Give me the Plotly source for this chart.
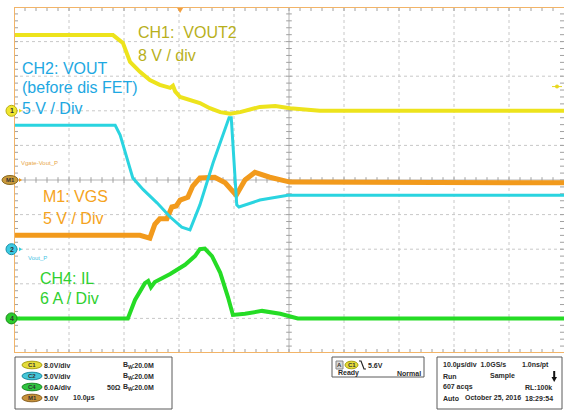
import plotly.graph_objects as go

W, H = 566, 410
# graticule area in page pixels
GX0, GX1, GY0, GY1 = 14, 564, 7, 353
N_HDIV, N_VDIV = 10, 10
T_PER_DIV = 10.0  # µs / div
T_MAX = N_HDIV * T_PER_DIV

# ---------------- data (physical units) ----------------
# CH1: VOUT2, 8 V/div
ch1_t = [0, 18.0, 19.8, 21.1, 22.9, 24.7, 26.5, 28.4, 28.9, 29.3, 30.2, 32.0, 33.8, 35.6,
         37.5, 39.3, 41.1, 44.7, 47.5, 50.2, 55.6, 100]
ch1_v = [17.5, 17.5, 15.7, 11.3, 9.0, 7.1, 6.0, 5.3, 5.8, 4.5, 3.2, 2.5, 1.8, 0.6,
         -0.3, -0.7, -0.3, 0.9, 1.1, 0.6, 0.0, 0.0]
# CH2: VOUT (before dis FET), 5 V/div
ch2_t = [0, 18.4, 19.3, 20.7, 21.6, 23.5, 26.0, 28.4, 30.5, 32.0, 33.8, 36.2, 39.1, 39.5,
         40.5, 40.9, 44.7, 49.8, 100]
ch2_v = [17.9, 17.9, 16.5, 12.9, 10.3, 8.6, 6.7, 4.65, 3.2, 2.8, 6.4, 12.5, 19.0, 19.0,
         6.4, 6.1, 7.1, 7.8, 7.8]
# M1: VGS, 5 V/div
m1_t = [0, 22.9, 24.7, 25.6, 26.5, 27.8, 28.7, 29.5, 30.2, 31.6, 32.5, 33.8, 36.5, 38.4,
        40.4, 42.0, 43.8, 46.5, 50.2, 100]
m1_v = [-8.0, -8.0, -8.4, -6.4, -5.6, -5.6, -3.9, -3.75, -2.9, -2.5, -0.87, 0.3, 0.4, -0.4,
        -2.2, 0.0, 1.1, 0.4, -0.3, -0.4]
# CH4: IL, 6 A/div
ch4_t = [0, 20.7, 22.0, 23.8, 24.4, 24.9, 25.6, 28.4, 31.1, 32.9, 33.8, 34.7, 36.0, 37.5,
         38.9, 39.8, 42.0, 45.1, 48.4, 51.6, 100]
ch4_a = [0, 0, 3.2, 6.1, 6.5, 5.4, 6.3, 7.7, 9.3, 10.8, 12.0, 12.1, 10.8, 7.9,
         3.7, 0.6, 0.8, 1.3, 0.8, 0, 0]

# channel scales and positions (divisions from screen centre)
ch1_scale, ch1_pos = 8.0, 2.0
ch2_scale, ch2_pos = 5.0, -2.0
m1_scale, m1_pos = 5.0, 0.0
ch4_scale, ch4_pos = 6.0, -4.0
trig_level = 5.6   # V on CH1
trig_time = 30.2   # µs

C_CH1, C_CH2, C_M1, C_CH4 = "#ede31c", "#2ad4e0", "#f29a1c", "#25dc25"
T_CH1, T_CH2, T_M1, T_CH4 = "#b8b01c", "#1ea8e2", "#f5a320", "#30d030"


def to_div(vals, scale, pos):
    return [v / scale + pos for v in vals]


DIV_PX_Y = (GY1 - GY0) / N_VDIV
CY = (GY0 + GY1) / 2


def div_to_px(d):
    return CY - d * DIV_PX_Y


def px(x):
    return x / W


def py(y):
    return 1 - y / H


fig = go.Figure()

# graticule minor ticks (one trace)
tx, ty = [], []
tl_y = 4 / DIV_PX_Y
tl_x = 4 / ((GX1 - GX0) / N_HDIV) * T_PER_DIV
for k in range(1, N_HDIV * 5):
    t = k * T_PER_DIV / 5
    tx += [t, t, None, t, t, None, t, t, None]
    ty += [5, 5 - tl_y, None, -5, -5 + tl_y, None, -tl_y * 0.7, tl_y * 0.7, None]
for k in range(1, N_VDIV * 5):
    y = -5 + k / 5
    tx += [0, tl_x, None, T_MAX, T_MAX - tl_x, None, 50 - tl_x * 0.7, 50 + tl_x * 0.7, None]
    ty += [y, y, None, y, y, None, y, y, None]
fig.add_trace(go.Scatter(x=tx, y=ty, mode="lines", line=dict(color="#a0a0a0", width=1),
                         hoverinfo="skip"))

fig.add_trace(go.Scatter(x=ch1_t, y=to_div(ch1_v, ch1_scale, ch1_pos), mode="lines",
                         line=dict(color=C_CH1, width=4), hoverinfo="skip"))
fig.add_trace(go.Scatter(x=m1_t, y=to_div(m1_v, m1_scale, m1_pos), mode="lines",
                         line=dict(color=C_M1, width=5), hoverinfo="skip"))
fig.add_trace(go.Scatter(x=ch4_t, y=to_div(ch4_a, ch4_scale, ch4_pos), mode="lines",
                         line=dict(color=C_CH4, width=4), hoverinfo="skip"))
fig.add_trace(go.Scatter(x=ch2_t, y=to_div(ch2_v, ch2_scale, ch2_pos), mode="lines",
                         line=dict(color=C_CH2, width=3), hoverinfo="skip"))

shapes = []
# dotted grid
for k in range(1, N_HDIV):
    t = k * T_PER_DIV
    if k == N_HDIV // 2:
        shapes.append(dict(type="line", xref="x", yref="y", x0=t, x1=t, y0=-5, y1=5,
                           line=dict(color="#b4b4b4", width=1), layer="below"))
    else:
        shapes.append(dict(type="line", xref="x", yref="y", x0=t, x1=t, y0=-5, y1=5,
                           line=dict(color="#c8c8c8", width=1, dash="dot"), layer="below"))
for k in range(1, N_VDIV):
    y = -5 + k
    if y == 0:
        shapes.append(dict(type="line", xref="x", yref="y", x0=0, x1=T_MAX, y0=0, y1=0,
                           line=dict(color="#b4b4b4", width=1), layer="below"))
    else:
        shapes.append(dict(type="line", xref="x", yref="y", x0=0, x1=T_MAX, y0=y, y1=y,
                           line=dict(color="#c8c8c8", width=1, dash="dot"), layer="below"))
# orange border
BORDER = "#f2b468"
for (x0, y0, x1, y1) in [(0, 5, T_MAX, 5), (0, -5, T_MAX, -5), (0, -5, 0, 5)]:
    shapes.append(dict(type="line", xref="x", yref="y", x0=x0, x1=x1, y0=y0, y1=y1,
                       line=dict(color=BORDER, width=2)))

# trigger position marker (top)
tpx = GX0 + trig_time / T_MAX * (GX1 - GX0)
shapes.append(dict(type="path", xref="paper", yref="paper",
                   path=f"M {px(tpx-3)} {py(8)} L {px(tpx+3)} {py(8)} L {px(tpx)} {py(13)} Z",
                   fillcolor="#f2a040", line=dict(width=0)))
# trigger level marker (right)
tly = div_to_px(trig_level / ch1_scale + ch1_pos)
shapes.append(dict(type="circle", xref="paper", yref="paper",
                   x0=px(555), x1=px(559), y0=py(tly - 2), y1=py(tly + 2),
                   fillcolor="#e8d820", line=dict(width=0)))
shapes.append(dict(type="line", xref="paper", yref="paper",
                   x0=px(552), x1=px(562), y0=py(tly), y1=py(tly),
                   line=dict(color="#e8d820", width=1)))

annotations = []


def ann(text, x, y, size, color, xanchor="left", weight="normal", family="Liberation Sans"):
    annotations.append(dict(x=px(x), y=py(y), xref="paper", yref="paper", text=text,
                            showarrow=False, xanchor=xanchor, yanchor="middle",
                            borderpad=0,
                            font=dict(family=family, size=size, color=color, weight=weight)))


# channel ground markers at left
markers = [("1", ch1_pos, "#f0e630", "#b8ae10", C_CH1),
           ("M1", m1_pos, "#c99a3c", "#8a6a20", C_M1),
           ("2", ch2_pos, "#3ccae2", "#1890a8", C_CH2),
           ("4", ch4_pos, "#2ccc2c", "#188a18", C_CH4)]
for label, pos, fill, edge, arrow in markers:
    yy = div_to_px(pos)
    if label == "M1":
        shapes.append(dict(type="circle", xref="paper", yref="paper", x0=px(2), x1=px(18),
                           y0=py(yy - 4.5), y1=py(yy + 4.5), fillcolor=fill, line=dict(color=edge, width=1)))
        ann(label, 10, yy, 6, "#333", xanchor="center", weight="bold")
    else:
        shapes.append(dict(type="circle", xref="paper", yref="paper", x0=px(6), x1=px(17),
                           y0=py(yy - 5.5), y1=py(yy + 5.5), fillcolor=fill, line=dict(color=edge, width=1)))
        ann(label, 11.5, yy, 7, "#333", xanchor="center", weight="bold")
    shapes.append(dict(type="path", xref="paper", yref="paper",
                       path=f"M {px(19)} {py(yy-2)} L {px(19)} {py(yy+2)} L {px(22)} {py(yy)} Z",
                       fillcolor=arrow, line=dict(width=0)))

# trace labels
FS = 16
ann("CH1:\u00a0 VOUT2", 137, 33, FS, T_CH1)
ann("8 V / div", 137, 55, FS, T_CH1)
ann("CH2: VOUT", 21, 68, FS, T_CH2)
ann("(before dis FET)", 21, 88, FS, T_CH2)
ann("5 V / Div", 21, 108, FS, T_CH2)
ann("M1: VGS", 42, 196, FS, T_M1)
ann("5 V / Div", 42, 218, FS, T_M1)
ann("CH4: IL", 39, 278, FS, T_CH4)
ann("6 A / Div", 39, 298, FS, T_CH4)
ann("Vgate-Vout_P", 20, 163, 6, "#e8a848")
ann("Vout_P", 27, 258, 6, "#48c4e4")

# bottom status panel
BOX = dict(color="#5a5a5a", width=1)
for (x0, y0, x1, y1) in [(15, 357, 172, 409), (332, 357, 424, 377), (437, 357, 562, 409)]:
    shapes.append(dict(type="rect", xref="paper", yref="paper", x0=px(x0), x1=px(x1),
                       y0=py(y0), y1=py(y1), line=BOX, fillcolor="rgba(0,0,0,0)"))

TXT = "#2a2a2a"
SF = 7
rows = [365, 376, 387, 398]
badges = [("C1", "#e4dc3a", "#a8a010"), ("C2", "#44c6d8", "#1a8aa0"),
          ("C4", "#30c440", "#188a20"), ("M1", "#c8923a", "#8a6020")]
for (lab, fill, edge), yy in zip(badges, rows):
    shapes.append(dict(type="circle", xref="paper", yref="paper", x0=px(22), x1=px(42),
                       y0=py(yy - 3.8), y1=py(yy + 3.8), fillcolor=fill, line=dict(color=edge, width=1)))
    ann(lab, 32, yy, 6, "#333", xanchor="center", weight="bold")

ann("8.0V/div", 43, rows[0], SF, TXT, weight="bold")
ann("5.0V/div", 43, rows[1], SF, TXT, weight="bold")
ann("6.0A/div", 43, rows[2], SF, TXT, weight="bold")
ann("5.0V", 43, rows[3], SF, TXT, weight="bold")
ann("10.0\u00b5s", 72, rows[3], SF, TXT, weight="bold")
ann("50\u03a9", 106, rows[2], SF, TXT, weight="bold")
for r in rows[:3]:
    ann("B", 122, r - 1, SF, TXT, weight="bold")
    ann("W", 126.5, r + 1.5, 5, TXT, weight="bold")
    ann(":20.0M", 131, r, SF, TXT, weight="bold")

# trigger box
shapes.append(dict(type="rect", xref="paper", yref="paper", x0=px(336), x1=px(343),
                   y0=py(361), y1=py(369), fillcolor="#d8d8d8", line=dict(color="#888", width=1)))
ann("A", 339.5, 365, 6, "#333", xanchor="center", weight="bold")
shapes.append(dict(type="circle", xref="paper", yref="paper", x0=px(345), x1=px(358),
                   y0=py(361.2), y1=py(368.8), fillcolor="#e4dc3a", line=dict(color="#a8a010", width=1)))
ann("C1", 351.5, 365, 6, "#333", xanchor="center", weight="bold")
shapes.append(dict(type="path", xref="paper", yref="paper",
                   path=f"M {px(359)} {py(361)} L {px(361)} {py(361)} L {px(364)} {py(369)} L {px(366)} {py(369)}",
                   line=dict(color="#222", width=1.2)))
ann("5.6V", 367, 365, SF, TXT, weight="bold")
ann("Ready", 337, 373, SF, TXT, weight="bold")
ann("Normal", 422, 373, SF, TXT, xanchor="right", weight="bold")

# acquisition box
ann("10.0\u00b5s/div\u00a0 1.0GS/s", 442, rows[0], SF, TXT, weight="bold")
ann("1.0ns/pt", 550, rows[0], SF, TXT, xanchor="right", weight="bold")
ann("Run", 442, rows[1], SF, TXT, weight="bold")
ann("Sample", 489, rows[1], SF, TXT, weight="bold")
# run-state arrow
shapes.append(dict(type="rect", xref="paper", yref="paper", x0=px(553.2), x1=px(555.2),
                   y0=py(371), y1=py(378), fillcolor="#111", line=dict(width=0)))
shapes.append(dict(type="path", xref="paper", yref="paper",
                   path=f"M {px(551.5)} {py(377)} L {px(557)} {py(377)} L {px(554.2)} {py(382)} Z",
                   fillcolor="#111", line=dict(width=0)))
ann("607 acqs", 442, rows[2], SF, TXT, weight="bold")
ann("RL:100k", 553, rows[2], SF, TXT, xanchor="right", weight="bold")
ann("Auto", 442, rows[3], SF, TXT, weight="bold")
ann("October 25, 2016", 464, rows[3], SF, TXT, weight="bold")
ann("18:29:54", 554, rows[3], SF, TXT, xanchor="right", weight="bold")

fig.update_layout(
    width=W, height=H,
    margin=dict(l=0, r=0, t=0, b=0),
    paper_bgcolor="white", plot_bgcolor="white",
    showlegend=False,
    xaxis=dict(domain=[GX0 / W, GX1 / W], range=[0, T_MAX], visible=False, fixedrange=True),
    yaxis=dict(domain=[1 - GY1 / H, 1 - GY0 / H], range=[-5, 5], visible=False, fixedrange=True),
    shapes=shapes,
    annotations=annotations,
)

fig.write_html("out.html", config={"displayModeBar": False},
               post_script="document.body.style.margin='0';document.body.style.overflow='hidden';")
